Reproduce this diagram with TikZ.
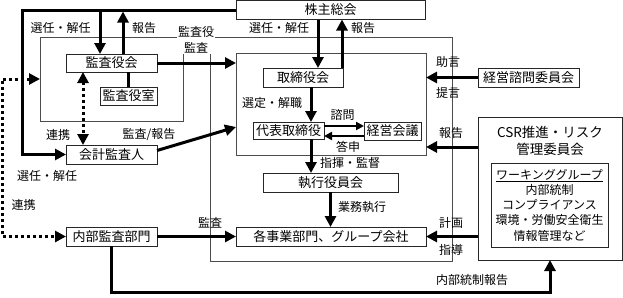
\documentclass[tikz,border=0pt]{standalone}
\usepackage{fontspec}
\setmainfont{Noto Sans CJK JP}
\usetikzlibrary{arrows.meta}

\begin{document}
\begin{tikzpicture}[x=1pt,y=-1pt,
  box/.style={draw=black!85,line width=0.8pt,inner sep=0pt,outer sep=0pt,font=\fontsize{13}{15}\selectfont},
  grayframe/.style={draw=black!70,line width=0.8pt,inner sep=0pt,outer sep=0pt},
  lbl/.style={inner sep=0pt,font=\fontsize{12}{14}\selectfont},
  arr/.style={line width=3pt,-{Triangle[length=11pt,width=11pt]}},
  arrs/.style={line width=2pt,-{Triangle[length=8pt,width=8pt]}},
  link/.style={line width=3pt,dash pattern=on 3pt off 3pt,{Triangle[length=11pt,width=11pt]}-{Triangle[length=11pt,width=11pt]}}]
  \useasboundingbox (0,0) rectangle (623,297);

  % frames
  \node[grayframe,minimum width=143pt,minimum height=84pt] (kansaframe) at (111.5,79) {};
  \node[grayframe,minimum width=242pt,minimum height=224pt] (company) at (331,149) {};
  \node[grayframe,minimum width=190pt,minimum height=102pt] (board) at (331,104) {};
  \node[lbl,fill=white,align=center,inner sep=1pt,font=\fontsize{12}{16}\selectfont] at (196,40) {監査役\\監査};

  % boxes
  \node[box,minimum width=189pt,minimum height=19pt] (soukai) at (330.5,10) {株主総会};
  \node[box,minimum width=91pt,minimum height=18pt] (kansayakukai) at (111.5,63) {監査役会};
  \node[box,minimum width=57pt,minimum height=18pt] (kansayakushitsu) at (128.5,96) {監査役室};
  \node[box,minimum width=91pt,minimum height=19pt] (kaikei) at (111.5,154.5) {会計監査人};
  \node[box,minimum width=91pt,minimum height=19pt] (naibu) at (111.5,236.5) {内部監査部門};
  \node[box,minimum width=80pt,minimum height=19pt] (torishimari) at (303,77.5) {取締役会};
  \node[box,minimum width=71pt,minimum height=17pt] (daihyo) at (288.5,130.5) {代表取締役};
  \node[box,minimum width=57pt,minimum height=18pt] (keiei) at (392.5,131) {経営会議};
  \node[box,minimum width=135pt,minimum height=19pt] (shikko) at (330.5,182.5) {執行役員会};
  \node[box,minimum width=190pt,minimum height=19pt] (jigyo) at (331,236.5) {各事業部門、グループ会社};
  \node[box,minimum width=101pt,minimum height=19pt] (shimon) at (528.5,77.5) {経営諮問委員会};
  \node[box,minimum width=144pt,minimum height=143pt] (csr) at (550,188.5) {};
  \node[box,align=center,draw=none,font=\fontsize{13.5}{17}\selectfont] at (550,140.5) {CSR推進・リスク\\管理委員会};
  \node[box,minimum width=117pt,minimum height=84pt,align=center,font=\fontsize{12}{15.25}\selectfont] (wg) at (549.5,205) {\underline{ワーキンググループ}\\内部統制\\コンプライアンス\\環境・労働安全衛生\\情報管理など};

  % shareholders
  \draw[arr] (soukai.west) -| ([xshift=-44pt]kaikei.west) -- (kaikei.west);
  \draw[arr] ([xshift=-11.5pt]kansayakukai.north |- soukai.west) -- ([xshift=-11.5pt]kansayakukai.north);
  \draw[arr] ([xshift=11.5pt]kansayakukai.north) -- ([xshift=11.5pt,yshift=-1.5pt]kansayakukai.north |- soukai.west);
  \draw[arr] ([xshift=15pt]torishimari.north |- soukai.south) -- ([xshift=15pt]torishimari.north);
  \draw[arr] ([xshift=39pt]torishimari.north) -- ([xshift=39pt]torishimari.north |- soukai.south);
  \node[lbl] at (60.5,28) {選任・解任};
  \node[lbl] at (144,28) {報告};
  \node[lbl] at (279,28) {選任・解任};
  \node[lbl] at (363,28) {報告};

  % audit
  \draw[arr] (kansayakukai.east) -- (kansayakukai.east -| board.west);
  \draw[line width=3pt] (kansayakushitsu.north) -- (kansayakushitsu.north |- kansayakukai.south);
  \draw[link] ([xshift=-28.5pt]kansayakukai.south) -- ([xshift=-28.5pt]kaikei.north);
  \draw[arr] ([yshift=4pt]kaikei.east) -- ([yshift=-23pt]board.west);
  \draw[link] (kansaframe.west) -- ++(-38,0) |- (naibu.west);
  \node[lbl] at (58,135) {連携};
  \node[lbl] at (149,135) {監査/報告};
  \node[lbl] at (47,176) {選任・解任};
  \node[lbl] at (23.5,205) {連携};

  % execution
  \draw[arr] ([xshift=22.5pt]daihyo.north |- torishimari.south) -- ([xshift=22.5pt]daihyo.north);
  \draw[arrs] ([yshift=4.5pt]daihyo.east) -- ([yshift=4.5pt]daihyo.east -| keiei.west);
  \draw[arrs] ([yshift=-5pt]keiei.west) -- ([yshift=-5pt]keiei.west -| daihyo.east);
  \draw[arr] ([xshift=22.5pt]daihyo.south) -- ([xshift=22.5pt]daihyo.south |- shikko.north);
  \draw[arr] (shikko.south) -- (shikko.south |- jigyo.north);
  \draw[arr] (naibu.east) -- (jigyo.west);
  \node[lbl] at (272,103) {選定・解職};
  \node[lbl] at (342.5,115) {諮問};
  \node[lbl] at (348,147) {答申};
  \node[lbl,anchor=west] at (320,163) {指揮・監督};
  \node[lbl,anchor=west] at (338,207) {業務執行};
  \node[lbl] at (210,223) {監査};

  % committees
  \draw[arr] (shimon.west) -- (shimon.west -| board.east);
  \draw[arr] ([yshift=41.5pt]csr.west) -- ([yshift=41.5pt]csr.west -| board.east);
  \draw[arr] (csr.west |- jigyo.east) -- (jigyo.east);
  \draw[arr] (naibu.south) -- ++(0,46) -| (csr.south);
  \node[lbl] at (448,62) {助言};
  \node[lbl] at (448,93) {提言};
  \node[lbl] at (451,133) {報告};
  \node[lbl] at (451,223) {計画};
  \node[lbl] at (451,250) {指導};
  \node[lbl] at (472,280) {内部統制報告};
\end{tikzpicture}
\end{document}
